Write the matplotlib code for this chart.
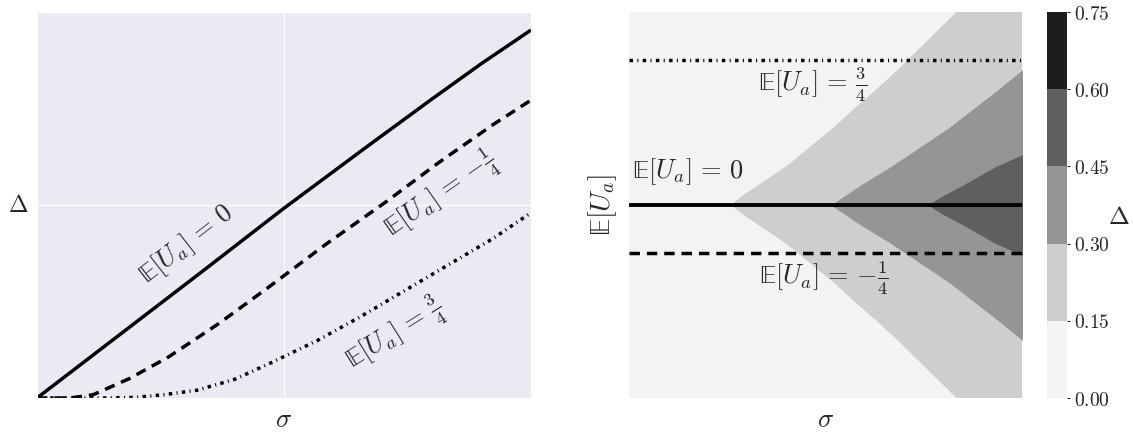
import matplotlib
matplotlib.use('Agg')
import matplotlib.pyplot as plt
import seaborn as sns
from matplotlib.colors import ListedColormap, BoundaryNorm
from matplotlib.cm import ScalarMappable

sns.set_style('darkgrid')
plt.rcParams['mathtext.fontset'] = 'cm'
plt.rcParams['font.family'] = ['DejaVu Sans']
plt.rcParams['text.color'] = '.15'

# ---------------- data ----------------
# left panel: Delta vs sigma for three values of E[U_a]
sigma_mu0 = [0.0, 0.25, 0.50, 0.75, 1.00, 1.20, 1.35, 1.50]
delta_mu0 = [0.0, 0.098, 0.196, 0.295, 0.390, 0.465, 0.520, 0.572]

sigma_mum14 = [0.0, 0.10, 0.17, 0.28, 0.40, 0.55, 0.70, 0.88, 1.06, 1.22, 1.385, 1.50]
delta_mum14 = [0.0, 0.0, 0.005, 0.030, 0.064, 0.115, 0.171, 0.240, 0.305, 0.366, 0.425, 0.463]

sigma_mu34 = [0.0, 0.20, 0.30, 0.383, 0.485, 0.60, 0.7075, 0.85, 0.981, 1.163, 1.385, 1.50]
delta_mu34 = [0.0, 0.0, 0.001, 0.005, 0.012, 0.029, 0.054, 0.089, 0.126, 0.181, 0.248, 0.288]

# right panel: contour levels and boundaries |E[U_a]| (edge of region Delta > level)
levels = [0.00, 0.15, 0.30, 0.45, 0.60, 0.75]
b015_sigma = [0.39, 0.435, 0.49, 0.545, 0.60, 0.69, 0.78, 0.86, 0.945, 1.025, 1.10, 1.175, 1.25, 1.325, 1.40, 1.55]
b015_mu = [0.00, 0.05, 0.10, 0.15, 0.20, 0.30, 0.40, 0.50, 0.60, 0.70, 0.80, 0.90, 1.00, 1.10, 1.20, 1.40]
b030_sigma = [0.77, 0.88, 1.00, 1.11, 1.22, 1.315, 1.41, 1.50, 1.55]
b030_mu = [0.00, 0.10, 0.20, 0.30, 0.40, 0.50, 0.60, 0.70, 0.75]
b045_sigma = [1.14, 1.20, 1.27, 1.335, 1.40, 1.50, 1.55]
b045_mu = [0.00, 0.05, 0.10, 0.15, 0.20, 0.26, 0.29]

mu_lines = [0.75, 0.0, -0.25]
sigma_range = [0.0, 1.5]

# ---------------- figure ----------------
W, H = 1133, 436
fig = plt.figure(figsize=(W / 100, H / 100), dpi=100)

def box(x0, x1, y0, y1):
    return [x0 / W, 1 - y1 / H, (x1 - x0) / W, (y1 - y0) / H]

ax1 = fig.add_axes(box(37, 531, 12, 398))
ax2 = fig.add_axes(box(629, 1022, 12, 398))
cax = fig.add_axes(box(1047, 1067, 12, 398))

lw = 2.5
dash_style = (3.0, 2.0)
dashdot_style = (1.0, 1.25, 0.3, 1.25)
EU = r'\mathrm{\mathbb{E}}[U_a]'
T0 = r'$%s\,=\,0$' % EU
TM = r'$%s\,=\,{-}\frac{1}{4}$' % EU
TP = r'$%s\,=\,\frac{3}{4}$' % EU

# left panel
ax1.plot(sigma_mu0, delta_mu0, color='black', lw=lw, solid_capstyle='butt')
ax1.plot(sigma_mum14, delta_mum14, color='black', lw=lw, dashes=dash_style)
ax1.plot(sigma_mu34, delta_mu34, color='black', lw=lw, dashes=dashdot_style)
ax1.set_xlim(0, 1.5)
ax1.set_ylim(0, 0.6)
ax1.set_xticks([0.75])
ax1.set_yticks([0.3])
ax1.set_xticklabels([])
ax1.set_yticklabels([])
ax1.tick_params(length=0)
ax1.set_xlabel(r'$\sigma$', fontsize=19, va='center')
ax1.xaxis.set_label_coords(0.5, -0.057)
ax1.set_ylabel(r'$\Delta$', fontsize=17, rotation=0, ha='center', va='center')
ax1.yaxis.set_label_coords(-0.038, 0.5)

tfs = 19
ax1.text(0.455, 0.238, T0, fontsize=tfs, rotation=38,
         ha='center', va='center', rotation_mode='anchor')
ax1.text(1.227, 0.315, TM, fontsize=tfs, rotation=35,
         ha='center', va='center', rotation_mode='anchor')
ax1.text(1.087, 0.098, TP, fontsize=tfs, rotation=32,
         ha='center', va='center', rotation_mode='anchor')

# right panel
cols = [plt.cm.Greys(v) for v in (0.1, 0.3, 0.5, 0.7, 0.9)]
cmap = ListedColormap(cols)
norm = BoundaryNorm(levels, cmap.N)
ax2.set_facecolor(cols[0])
ax2.grid(False)
for (bs, bm), c in zip([(b015_sigma, b015_mu), (b030_sigma, b030_mu), (b045_sigma, b045_mu)], cols[1:4]):
    ax2.fill_between(bs, [-m for m in bm], bm, color=c, lw=0)

styles = [dict(dashes=dashdot_style), dict(), dict(dashes=dash_style)]
for m, st in zip(mu_lines, styles):
    ax2.plot(sigma_range, [m, m], color='black', lw=lw if m != 0 else 2.8, **st)
ax2.set_xlim(0, 1.5)
ax2.set_ylim(-1, 1)
ax2.set_xticks([])
ax2.set_yticks([])
ax2.set_xlabel(r'$\sigma$', fontsize=19, va='center')
ax2.xaxis.set_label_coords(0.5, -0.057)
ax2.set_ylabel(r'$%s$' % EU, fontsize=20, ha='center', va='center')
ax2.yaxis.set_label_coords(-0.066, 0.5)
for s in ax2.spines.values():
    s.set_visible(False)

ax2.text(0.700, 0.622, TP, fontsize=tfs, ha='center', va='center')
ax2.text(0.225, 0.171, T0, fontsize=tfs, ha='center', va='center')
ax2.text(0.742, -0.378, TM, fontsize=tfs, ha='center', va='center')

# colorbar
sm = ScalarMappable(norm=norm, cmap=cmap)
cb = fig.colorbar(sm, cax=cax, ticks=levels)
cb.outline.set_visible(False)
cb.ax.set_yticklabels([r'$%.2f$' % v for v in levels], fontsize=14)
cb.ax.tick_params(length=2, width=0.8, color='.15', pad=3)
cb.set_label(r'$\Delta$', fontsize=18, rotation=0, ha='center', va='center')
cb.ax.yaxis.set_label_coords(3.6, 0.47)

fig.savefig('out.png', dpi=100)
